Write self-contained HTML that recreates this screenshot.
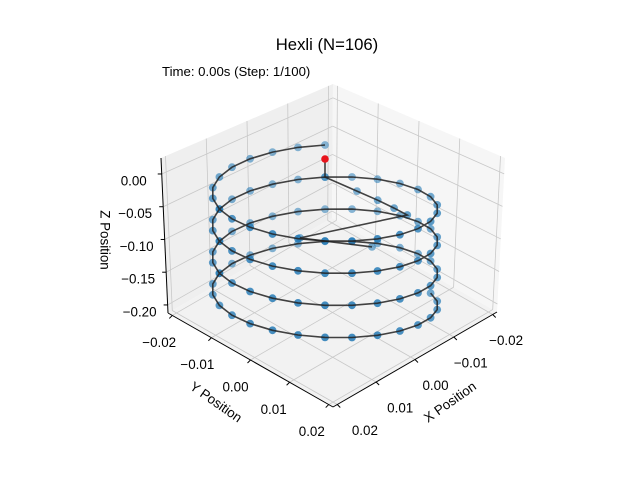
<!DOCTYPE html>
<html><head><meta charset="utf-8">
<style>
html,body{margin:0;padding:0;background:#fff;}
svg{display:block;font-family:"Liberation Sans","DejaVu Sans",sans-serif;}
</style></head>
<body>
<svg id="chart" width="640" height="480" viewBox="0 0 640 480" xmlns="http://www.w3.org/2000/svg">
<rect width="640" height="480" fill="#fff"/>
<text x="327" y="50" text-anchor="middle" font-size="16.7">Hexli (N=106)</text>
<text x="162" y="76" font-size="13.2">Time: 0.00s (Step: 1/100)</text>
<g id="box"></g>
<g id="marks"></g>
</svg>
<script>
// ---- chart data ----
const xTicks = [-0.02, -0.01, 0.00, 0.01, 0.02];
const yTicks = [-0.02, -0.01, 0.00, 0.01, 0.02];
const zTicks = [0.00, -0.05, -0.10, -0.15, -0.20];
const xTickLabels = ["\u22120.02", "\u22120.01", "0.00", "0.01", "0.02"];
const yTickLabels = ["\u22120.02", "\u22120.01", "0.00", "0.01", "0.02"];
const zTickLabels = ["0.00", "\u22120.05", "\u22120.10", "\u22120.15", "\u22120.20"];
const helixRadius = 0.02;
const helixAngleDeg = [
225,238.8,252.7,266.5,280.4,294.2,308.1,321.9,335.8,349.6,3.5,17.3,31.2,45,58.8,72.7,86.5,100.4,114.2,128.1,141.9,155.8,169.6,183.5,197.3,211.2,
225,238.8,252.7,266.5,280.4,294.2,308.1,321.9,335.8,349.6,3.5,17.3,31.2,45,58.8,72.7,86.5,100.4,114.2,128.1,141.9,155.8,169.6,183.5,197.3,211.2,
225,238.8,252.7,266.5,280.4,294.2,308.1,321.9,335.8,349.6,3.5,17.3,31.2,45,58.8,72.7,86.5,100.4,114.2,128.1,141.9,155.8,169.6,183.5,197.3,211.2,
225,238.8,252.7,266.5,280.4,294.2,308.1,321.9,335.8,349.6,3.5,17.3,31.2,45,58.8,72.7,86.5,100.4,114.2,128.1,141.9,155.8];
const helixZ = [
0,-0.0019,-0.0038,-0.0057,-0.0076,-0.0095,-0.0114,-0.0133,-0.0152,-0.0171,-0.0190,-0.0209,-0.0228,-0.0247,-0.0266,-0.0285,-0.0304,-0.0323,-0.0342,-0.0361,-0.0380,-0.0399,-0.0418,-0.0437,-0.0456,-0.0475,
-0.0494,-0.0513,-0.0532,-0.0551,-0.0570,-0.0589,-0.0608,-0.0627,-0.0646,-0.0665,-0.0684,-0.0703,-0.0722,-0.0741,-0.0760,-0.0779,-0.0798,-0.0817,-0.0836,-0.0855,-0.0874,-0.0893,-0.0912,-0.0931,-0.0950,-0.0969,
-0.0988,-0.1007,-0.1026,-0.1045,-0.1064,-0.1083,-0.1102,-0.1121,-0.1140,-0.1159,-0.1178,-0.1197,-0.1216,-0.1235,-0.1254,-0.1273,-0.1292,-0.1311,-0.1330,-0.1349,-0.1368,-0.1387,-0.1406,-0.1425,-0.1444,-0.1463,
-0.1482,-0.1501,-0.1520,-0.1539,-0.1558,-0.1577,-0.1596,-0.1615,-0.1634,-0.1653,-0.1672,-0.1691,-0.1710,-0.1729,-0.1748,-0.1767,-0.1786,-0.1805,-0.1824,-0.1843,-0.1862,-0.1881];
// extra chain (pinned start + chord)
const chainX = [-0.01414, -0.01414, -0.0130, -0.0122, -0.0113, -0.0103, -0.00687, -0.01588];
const chainY = [-0.01414, -0.01414, -0.0050, 0.0010, 0.0060, 0.0103, -0.01313, -0.00412];
const chainZ = [-0.0215, -0.0494, -0.0486, -0.0478, -0.0470, -0.0462, -0.1249, -0.1388];

// ---- box axes model ----
const XR=[-0.0211,0.0211], YR=[-0.0211,0.0211], ZR=[-0.2123,0.0244];
const B0=[332,218], L=[168,313], R=[497,312];
const TB=[333,84], TL=[161,158], TR=[505,158];
function boxPt(x,y,z){
  const u=(x-XR[0])/(XR[1]-XR[0]), v=(y-YR[0])/(YR[1]-YR[0]), w=(z-ZR[0])/(ZR[1]-ZR[0]);
  const bx=B0[0]+u*(L[0]-B0[0])+v*(R[0]-B0[0]), by=B0[1]+u*(L[1]-B0[1])+v*(R[1]-B0[1]);
  const tx=TB[0]+u*(TL[0]-TB[0])+v*(TR[0]-TB[0]), ty=TB[1]+u*(TL[1]-TB[1])+v*(TR[1]-TB[1]);
  return [bx+w*(tx-bx), by+w*(ty-by)];
}
// helix projection
function proj(x,y,z){
  return [325+(y-x)*3995, 185+(x+y)*1414 - z*650];
}
const NS="http://www.w3.org/2000/svg";
function mk(tag,attrs,parent){const e=document.createElementNS(NS,tag);for(const k in attrs)e.setAttribute(k,attrs[k]);parent.appendChild(e);return e;}
const box=document.getElementById('box'), marks=document.getElementById('marks');
function poly(pts){return pts.map(p=>p[0].toFixed(1)+','+p[1].toFixed(1)).join(' ');}

const x0=XR[0],x1=XR[1],y0=YR[0],y1=YR[1],z0=ZR[0],z1=ZR[1];
let p;
p=mk('polygon',{points:poly([boxPt(x0,y0,z0),boxPt(x1,y0,z0),boxPt(x1,y0,z1),boxPt(x0,y0,z1)]),fill:'#efefef'},box);


p=mk('polygon',{points:poly([boxPt(x0,y0,z0),boxPt(x0,y1,z0),boxPt(x0,y1,z1),boxPt(x0,y0,z1)]),fill:'#f6f6f6'},box);


p=mk('polygon',{points:poly([boxPt(x0,y0,z0),boxPt(x1,y0,z0),boxPt(x1,y1,z0),boxPt(x0,y1,z0)]),fill:'#f2f2f2'},box);



function gl(a,b,name){
  const e=mk('line',{x1:a[0],y1:a[1],x2:b[0],y2:b[1],stroke:'#c8c8c8','stroke-width':0.8},box);
  
  
}
xTicks.forEach(t=>{gl(boxPt(t,y0,z0),boxPt(t,y1,z0),'floor-grid-x');gl(boxPt(t,y0,z0),boxPt(t,y0,z1),'wall-grid-x');});
yTicks.forEach(t=>{gl(boxPt(x1,t,z0),boxPt(x0,t,z0),'floor-grid-y');gl(boxPt(x0,t,z0),boxPt(x0,t,z1),'wall-grid-y');});
zTicks.forEach(t=>{gl(boxPt(x1,y0,t),boxPt(x0,y0,t),'wall-grid-z');gl(boxPt(x0,y0,t),boxPt(x0,y1,t),'wall-grid-z');});

function axl(a,b,name){
  const e=mk('line',{x1:a[0],y1:a[1],x2:b[0],y2:b[1],stroke:'#000','stroke-width':1},box);
  
  
}
axl(boxPt(x1,y0,z0),boxPt(x1,y1,z0),'y-axis-line');
axl(boxPt(x0,y1,z0),boxPt(x1,y1,z0),'x-axis-line');
axl(boxPt(x1,y0,z0),boxPt(x1,y0,z1),'z-axis-line');

function lbl(txt,x,y,name,rot){
  const e=mk('text',{x:x,y:y,'text-anchor':'middle','dominant-baseline':'central','font-size':13.4},box);
  if(rot!==undefined)e.setAttribute('transform','rotate('+rot+' '+x+' '+y+')');
  e.textContent=txt;
  
  
  return e;
}
yTicks.forEach((t,i)=>{
  const a=boxPt(x1,t,z0); const f=(t-y0)/(y1-y0);
  axl(a,[a[0]-3,a[1]+3],'y-tick');
  lbl(yTickLabels[i],a[0]-13-4*f,a[1]+27,'y-tick-label');
});
xTicks.forEach((t,i)=>{
  const a=boxPt(t,y1,z0); const f=(x1-t)/(x1-x0);
  axl(a,[a[0]+3,a[1]+3],'x-tick');
  lbl(xTickLabels[i],a[0]+13+15*(1-f),a[1]+26,'x-tick-label');
});
zTicks.forEach((t,i)=>{
  const a=boxPt(x1,y0,t);
  axl(a,[a[0]-4,a[1]],'z-tick');
  lbl(zTickLabels[i],a[0]-28,a[1]+7,'z-tick-label');
});
lbl('Y Position',216,402,'y-axis-title',35);
lbl('X Position',450,402,'x-axis-title',-35);
lbl('Z Position',105,240,'z-axis-title',90);

// ---- marks ----
const hx=helixAngleDeg.map(a=>helixRadius*Math.cos(a*Math.PI/180));
const hy=helixAngleDeg.map(a=>helixRadius*Math.sin(a*Math.PI/180));
const pts=[];
for(let i=0;i<helixZ.length;i++)pts.push({x:hx[i],y:hy[i],z:helixZ[i]});
const cpts=[];
for(let i=1;i<chainX.length;i++)cpts.push({x:chainX[i],y:chainY[i],z:chainZ[i]});
const all=pts.concat(cpts);
all.slice().sort((a,b)=>(a.x+a.y)-(b.x+b.y)).forEach(q=>{
  const s=proj(q.x,q.y,q.z);
  const depth=((q.x+q.y)/(2*helixRadius*1.414)+1)/2;
  const c=mk('circle',{cx:s[0].toFixed(1),cy:s[1].toFixed(1),r:3.9,fill:'#1f77b4','fill-opacity':(0.35+0.65*depth).toFixed(2)},marks);
  
  
});
const hl=mk('polyline',{points:poly(pts.map(q=>proj(q.x,q.y,q.z))),fill:'none',stroke:'#222','stroke-opacity':0.85,'stroke-width':1.6},marks);


const chain=[];
for(let i=0;i<chainX.length;i++)chain.push(proj(chainX[i],chainY[i],chainZ[i]));
const cl=mk('polyline',{points:poly(chain),fill:'none',stroke:'#222','stroke-opacity':0.85,'stroke-width':1.6},marks);


const rp=proj(chainX[0],chainY[0],chainZ[0]);
const red=mk('circle',{cx:rp[0].toFixed(1),cy:rp[1].toFixed(1),r:3.8,fill:'#e8141c'},marks);


</script>
</body></html>
